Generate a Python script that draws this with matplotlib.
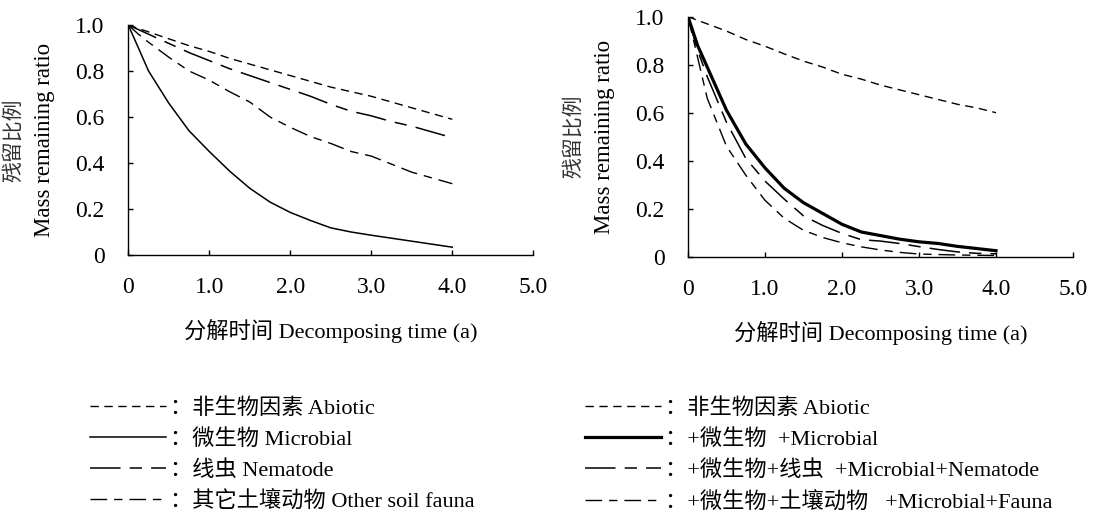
import matplotlib
matplotlib.use("Agg")
import matplotlib.pyplot as plt
from matplotlib.ticker import FixedLocator, FixedFormatter

FAM = ['Liberation Serif', 'Noto Sans CJK SC']
plt.rcParams['font.family'] = FAM

# ---------------- data ----------------
t_left = [0, 0.125, 0.25, 0.5, 0.75, 1.0, 1.25, 1.5, 1.75, 2.0, 2.25, 2.5, 2.75, 3.0, 3.25, 3.5, 3.75, 4.0]
left_abiotic = [1.0, 0.985, 0.97, 0.94, 0.91, 0.885, 0.855, 0.83, 0.805, 0.78, 0.755, 0.73, 0.71, 0.69, 0.665, 0.64, 0.615, 0.59]
left_microbial = [1.0, 0.90, 0.80, 0.66, 0.54, 0.45, 0.365, 0.29, 0.23, 0.185, 0.15, 0.118, 0.10, 0.086, 0.073, 0.06, 0.047, 0.034]
left_nematode = [1.0, 0.98, 0.96, 0.92, 0.88, 0.845, 0.81, 0.78, 0.75, 0.72, 0.69, 0.655, 0.625, 0.605, 0.58, 0.56, 0.535, 0.51]
left_fauna = [1.0, 0.96, 0.925, 0.86, 0.80, 0.76, 0.71, 0.665, 0.60, 0.555, 0.515, 0.485, 0.45, 0.43, 0.395, 0.36, 0.335, 0.31]

t_right = [0, 0.125, 0.25, 0.5, 0.75, 1.0, 1.25, 1.5, 1.75, 2.0, 2.25, 2.5, 2.75, 3.0, 3.25, 3.5, 3.75, 4.0]
right_abiotic = [1.0, 0.985, 0.97, 0.94, 0.905, 0.877, 0.845, 0.815, 0.79, 0.76, 0.74, 0.715, 0.695, 0.675, 0.655, 0.635, 0.62, 0.60]
right_microbial = [1.0, 0.88, 0.79, 0.61, 0.47, 0.37, 0.285, 0.225, 0.18, 0.135, 0.103, 0.088, 0.073, 0.062, 0.055, 0.043, 0.034, 0.025]
right_nematode = [1.0, 0.86, 0.75, 0.56, 0.41, 0.315, 0.24, 0.17, 0.13, 0.097, 0.071, 0.065, 0.055, 0.042, 0.03, 0.02, 0.014, 0.012]
right_fauna = [1.0, 0.83, 0.66, 0.46, 0.34, 0.235, 0.16, 0.11, 0.08, 0.058, 0.041, 0.028, 0.018, 0.011, 0.009, 0.007, 0.006, 0.005]

x_ticks = [0, 1, 2, 3, 4, 5]
x_tick_labels = ['0', '1.0', '2.0', '3.0', '4.0', '5.0']
y_ticks = [0, 0.2, 0.4, 0.6, 0.8, 1.0]
y_tick_labels = ['0', '0.2', '0.4', '0.6', '0.8', '1.0']

xlabel_text = '分解时间 Decomposing time (a)'
ylabel_cn = '残留比例'
ylabel_en = 'Mass remaining ratio'

left_legend = ['：非生物因素 Abiotic', '：微生物 Microbial', '：线虫 Nematode', '：其它土壤动物 Other soil fauna']
right_legend = ['：非生物因素 Abiotic', '：+微生物  +Microbial', '：+微生物+线虫  +Microbial+Nematode',
                '：+微生物+土壤动物   +Microbial+Fauna']

# ---------------- styles ----------------
DASH_ABIOTIC = (0, (6, 4))
DASH_NEMATODE = (0, (20, 6, 8, 6))
DASH_FAUNA = (0, (12, 5, 6, 5))

fig = plt.figure(figsize=(10.93, 5.15), dpi=100)
W, H = 1093, 515

def make_axes(x0, x1, y0, y1):
    return fig.add_axes([x0 / W, (H - y0) / H, (x1 - x0) / W, (y0 - y1) / H])

axL = make_axes(128.3, 533.3, 255, 25)
axR = make_axes(688, 1073, 256.7, 16.7)

def style(ax):
    ax.set_xlim(0, 5)
    ax.set_ylim(0, 1.0)
    for s in ['top', 'right']:
        ax.spines[s].set_visible(False)
    for s in ['left', 'bottom']:
        ax.spines[s].set_linewidth(1.0)
    ax.xaxis.set_major_locator(FixedLocator(x_ticks))
    ax.xaxis.set_major_formatter(FixedFormatter(x_tick_labels))
    ax.yaxis.set_major_locator(FixedLocator(y_ticks))
    ax.yaxis.set_major_formatter(FixedFormatter(y_tick_labels))
    ax.tick_params(axis='both', direction='in', length=3.5, width=1.0, labelsize=17)
    ax.tick_params(axis='y', pad=17)
    ax.tick_params(axis='x', pad=16)
    ax.annotate(ylabel_en, xy=(0, 0.5), xycoords='axes fraction', xytext=(-60, 0),
                textcoords='offset points', rotation=90, ha='center', va='center',
                fontsize=16.5, family=FAM)
    ax.annotate(ylabel_cn, xy=(0, 0.5), xycoords='axes fraction', xytext=(-83, 0),
                textcoords='offset points', rotation=90, ha='center', va='center',
                fontsize=15, color='#333333', family=['Noto Sans CJK SC'])
    ax.annotate(xlabel_text, xy=(0.5, 0), xycoords='axes fraction', xytext=(0, -55),
                textcoords='offset points', ha='center', va='center', fontsize=16, family=FAM)

style(axL)
style(axR)

l1, = axL.plot(t_left, left_abiotic, color='black', lw=1.0, linestyle=DASH_ABIOTIC)
l2, = axL.plot(t_left, left_microbial, color='black', lw=1.1, linestyle='-')
l3, = axL.plot(t_left, left_nematode, color='black', lw=1.1, linestyle=DASH_NEMATODE)
l4, = axL.plot(t_left, left_fauna, color='black', lw=1.0, linestyle=DASH_FAUNA)

r1, = axR.plot(t_right, right_abiotic, color='black', lw=1.0, linestyle=DASH_ABIOTIC)
r2, = axR.plot(t_right, right_microbial, color='black', lw=2.3, linestyle='-')
r3, = axR.plot(t_right, right_nematode, color='black', lw=1.1, linestyle=DASH_NEMATODE)
r4, = axR.plot(t_right, right_fauna, color='black', lw=1.0, linestyle=DASH_FAUNA)

leg_kw = dict(loc='upper left', frameon=False, handlelength=3.4,
              handletextpad=0.2, labelspacing=0.46, borderaxespad=0, borderpad=0,
              prop={'family': FAM, 'size': 16})
fig.legend([l1, l2, l3, l4], left_legend, bbox_to_anchor=(90 / W, 1 - 398 / H), **leg_kw)
fig.legend([r1, r2, r3, r4], right_legend, bbox_to_anchor=(585 / W, 1 - 398 / H), **leg_kw)

fig.savefig('out.png', dpi=100)
